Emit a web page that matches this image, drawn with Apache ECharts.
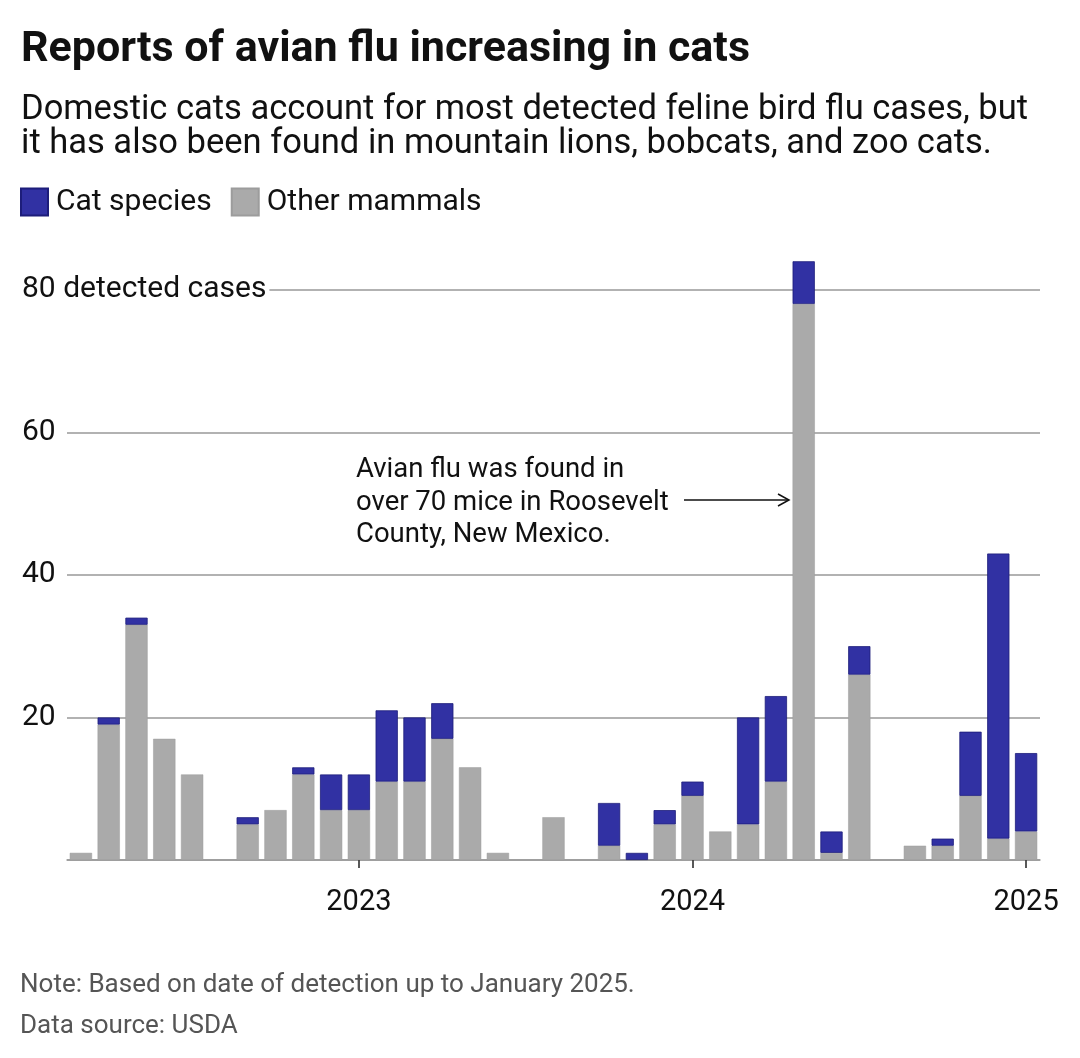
<!DOCTYPE html>
<html>
<head>
<meta charset="utf-8">
<script src="https://cdn.jsdelivr.net/npm/echarts@6/dist/echarts.min.js"></script>
<style>
html,body{margin:0;padding:0;background:#fff;}
#chart{width:1080px;height:1058px;}
</style>
</head>
<body>
<div id="chart"></div>
<script>
const months = ['2022-03','2022-04','2022-05','2022-06','2022-07','2022-08','2022-09','2022-10','2022-11','2022-12',
  '2023-01','2023-02','2023-03','2023-04','2023-05','2023-06','2023-07','2023-08','2023-09','2023-10','2023-11','2023-12',
  '2024-01','2024-02','2024-03','2024-04','2024-05','2024-06','2024-07','2024-08','2024-09','2024-10','2024-11','2024-12',
  '2025-01'];
const otherMammals = [1,19,33,17,12,0,5,7,12,7, 7,11,11,17,13,1,0,6,0,2,0,5, 9,4,5,11,78,1,26,0,2,2,9,3, 4];
const catSpecies   = [0,1,1,0,0,0,1,0,1,5, 5,10,9,5,0,0,0,0,0,6,1,2, 2,0,15,12,6,3,4,0,0,1,9,40, 11];
const yTicks = [0,20,40,60,80];

const FONT = 'Roboto, "Noto Sans", sans-serif';
const chart = echarts.init(document.getElementById('chart'), null, {renderer:'canvas'});
const isJan = (i, v) => String(v).endsWith('-01');
const nz = arr => arr.map(v => v === 0 ? null : v);

chart.setOption({
  backgroundColor:'#fff',
  animation:false,
  textStyle:{fontFamily:FONT},
  title:[
    {text:'Reports of avian flu increasing in cats', left:21, top:29, padding:0,
     textStyle:{fontSize:43, fontWeight:'bold', color:'#111', fontFamily:FONT}},
    {text:'Domestic cats account for most detected feline bird flu cases, but\nit has also been found in mountain lions, bobcats, and zoo cats.',
     left:21, top:93, padding:0, textStyle:{fontSize:34.5, fontWeight:'normal', color:'#111', lineHeight:34, fontFamily:FONT}},
    {text:'Note: Based on date of detection up to January 2025.', left:20, top:972, padding:0,
     textStyle:{fontSize:26, fontWeight:'normal', color:'#555', fontFamily:FONT}},
    {text:'Data source: USDA', left:20, top:1013, padding:0,
     textStyle:{fontSize:26, fontWeight:'normal', color:'#555', fontFamily:FONT}}
  ],
  legend:{
    data:['Cat species','Other mammals'], left:20, top:187, padding:0, itemWidth:27, itemHeight:27, itemGap:19,
    icon:'rect', textStyle:{fontSize:30, color:'#111', fontFamily:FONT, padding:[0,0,0,3]}
  },
  grid:{left:67, right:40, top:247, bottom:198, containLabel:false},
  xAxis:{
    type:'category', data:months,
    axisLine:{lineStyle:{color:'#999', width:1.5}},
    axisTick:{show:true, alignWithLabel:true, interval:isJan, length:8, lineStyle:{color:'#222', width:1.5}},
    axisLabel:{interval:isJan, formatter:v=>v.endsWith('-01')?v.slice(0,4):'', fontSize:29, color:'#111', margin:28, fontFamily:FONT}
  },
  yAxis:{
    type:'value', min:0, max:86, interval:20,
    axisLine:{show:false}, axisTick:{show:false},
    splitLine:{show:true, showMaxLine:false, lineStyle:{color:'#999', width:1.5}},
    axisLabel:{
      showMaxLabel:false, showMinLabel:false, align:'left', margin:45, fontSize:30, color:'#111', fontFamily:FONT,
      formatter:v=> (yTicks.includes(v) && v!==0) ? (v===80 ? '80 detected cases' : String(v)) : '',
      backgroundColor:'#fff', padding:[8,3,0,0]
    }
  },
  series:[
    {name:'Other mammals', type:'bar', stack:'total', data:nz(otherMammals), barCategoryGap:'20%',
     itemStyle:{color:'#aaaaaa', borderColor:'#9c9c9c', borderWidth:0.5}},
    {name:'Cat species', type:'bar', stack:'total', data:nz(catSpecies), barCategoryGap:'20%',
     itemStyle:{color:'#3131a3', borderColor:'#1d1d7a', borderWidth:0.8}}
  ],
  graphic:[
    {type:'text', left:356, top:454, z:10,
     style:{text:'Avian flu was found in\nover 70 mice in Roosevelt\nCounty, New Mexico.', lineHeight:32.5, fill:'#111', font:'27.5px '+FONT}},
    {type:'line', z:10, shape:{x1:684, y1:500, x2:788, y2:500}, style:{stroke:'#111', lineWidth:1.5}},
    {type:'polyline', z:10, shape:{points:[[778,494],[789,500],[778,506]]}, style:{stroke:'#111', lineWidth:1.5, fill:null}}
  ]
});
</script>
</body>
</html>
